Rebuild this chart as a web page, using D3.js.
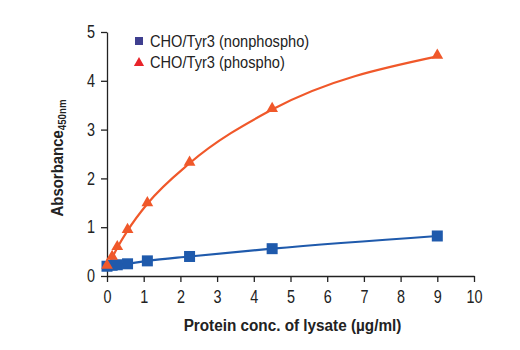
<!DOCTYPE html>
<html>
<head>
<meta charset="utf-8">
<script src="https://cdn.jsdelivr.net/npm/d3@7"></script>
<style>
  body { margin: 0; background: #fff; }
  svg text { font-family: "Liberation Sans", Arial, sans-serif; }
</style>
</head>
<body>
<svg id="chart"></svg>
<script>
// protein concentration (ug/ml), serial dilution
const conc = [0, 0.14, 0.28, 0.56, 1.1, 2.25, 4.5, 9];
const nonphospho = [0.2, 0.22, 0.23, 0.25, 0.31, 0.40, 0.56, 0.82];
const phospho = [0.2, 0.38, 0.58, 0.93, 1.48, 2.31, 3.41, 4.5];
const xTicks = [0, 1, 2, 3, 4, 5, 6, 7, 8, 9, 10];
const yTicks = [0, 1, 2, 3, 4, 5];
const seriesNames = ["CHO/Tyr3 (nonphospho)", "CHO/Tyr3 (phospho)"];

let width = 520, height = 350;
var margin = {top: 32, right: 46, bottom: 74, left: 107};
// the original uses a condensed face; squeeze text horizontally
const squeeze = 0.8;

let svg = d3.select("#chart")
    .attr("width", width)
    .attr("height", height);

const xScale = d3.scaleLinear()
    .domain([0, 10])
    .range([margin.left, width - margin.right]);

const yScale = d3.scaleLinear()
    .domain([0, 5])
    .range([height - margin.bottom, margin.top]);

// x axis
let xAxis = svg.append("g")
    .attr("transform", "translate(0," + (height - margin.bottom) + ")")
    .call(d3.axisBottom(xScale).tickValues(xTicks).tickFormat(d3.format("d"))
        .tickSize(6).tickPadding(8).tickSizeOuter(0));
xAxis.selectAll("text")
    .style("font-size", "18px")
    .attr("fill", "#222")
    .attr("transform", "scale(" + squeeze + ",1)");
xAxis.selectAll("line, path").attr("stroke", "#222").attr("stroke-width", 1.3);

// y axis
let yAxis = svg.append("g")
    .attr("transform", "translate(" + margin.left + ",0)")
    .call(d3.axisLeft(yScale).tickValues(yTicks).tickFormat(d3.format("d"))
        .tickSize(6).tickPadding(9).tickSizeOuter(0));
yAxis.selectAll("text")
    .style("font-size", "18px")
    .attr("fill", "#222")
    .attr("transform", "scale(" + squeeze + ",1)");
yAxis.selectAll("line, path").attr("stroke", "#222").attr("stroke-width", 1.3);

// axis titles
svg.append("text")
    .attr("transform", "translate(" + ((margin.left + width - margin.right) / 2 + 2) + ",331) scale(0.9,1)")
    .attr("text-anchor", "middle")
    .style("font-size", "17px")
    .style("font-weight", "bold")
    .attr("fill", "#222")
    .text("Protein conc. of lysate (µg/ml)");

let yTitle = svg.append("text")
    .attr("transform", "translate(63,158) rotate(-90) scale(0.88,1)")
    .attr("text-anchor", "middle")
    .style("font-size", "17px")
    .style("font-weight", "bold")
    .attr("fill", "#222");
yTitle.append("tspan").text("Absorbance");
yTitle.append("tspan").attr("dy", 3).style("font-size", "11px").text("450nm");

// lines
const line = d3.line()
    .x((d, i) => xScale(conc[i]))
    .y(d => yScale(d))
    .curve(d3.curveMonotoneX);

svg.append("path")
    .datum(nonphospho)
    .attr("d", line)
    .attr("fill", "none")
    .attr("stroke", "#1f5aac")
    .attr("stroke-width", 2.2);

svg.append("path")
    .datum(phospho)
    .attr("d", line)
    .attr("fill", "none")
    .attr("stroke", "#f0582a")
    .attr("stroke-width", 2.2);

// markers
svg.selectAll(".sq")
    .data(nonphospho)
    .enter()
    .append("rect")
    .attr("x", (d, i) => xScale(conc[i]) - 5.5)
    .attr("y", d => yScale(d) - 5.5)
    .attr("width", 11)
    .attr("height", 11)
    .attr("fill", "#1f5aac");

const tri = d3.symbol().type(d3.symbolTriangle).size(60);
svg.selectAll(".tri")
    .data(phospho)
    .enter()
    .append("path")
    .attr("d", tri)
    .attr("transform", (d, i) => "translate(" + xScale(conc[i]) + "," + (yScale(d) - 1) + ")")
    .attr("fill", "#f0582a");

// legend
let legend = svg.append("g");
legend.append("rect")
    .attr("x", 135).attr("y", 37)
    .attr("width", 8).attr("height", 8)
    .attr("fill", "#3f3f8f");
legend.append("path")
    .attr("d", d3.symbol().type(d3.symbolTriangle).size(45))
    .attr("transform", "translate(139,63)")
    .attr("fill", "#e8242a");
legend.selectAll(".lt")
    .data(seriesNames)
    .enter()
    .append("text")
    .attr("transform", (d, i) => "translate(150," + (47 + i * 21) + ") scale(0.86,1)")
    .style("font-size", "17px")
    .attr("fill", "#222")
    .text(d => d);
</script>
</body>
</html>
